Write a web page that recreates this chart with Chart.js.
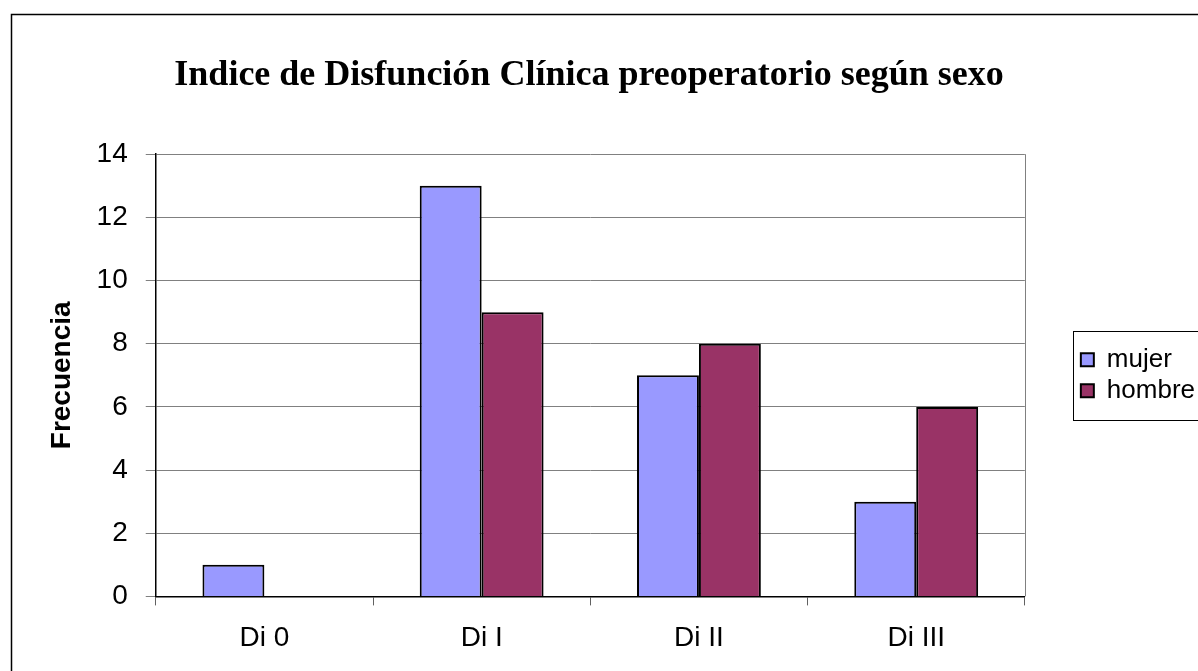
<!DOCTYPE html>
<html>
<head>
<meta charset="utf-8">
<script src="https://cdn.jsdelivr.net/npm/chart.js@4.4.1/dist/chart.umd.min.js"></script>
<style>
  html, body { margin: 0; padding: 0; background: #fff; }
  #wrap { width: 1198px; height: 671px; }
</style>
</head>
<body>
<div id="wrap"><canvas id="chart"></canvas></div>
<script>
// Chart data
const categories = ['Di 0', 'Di I', 'Di II', 'Di III'];
const mujer = [1, 13, 7, 3];
const hombre = [0, 9, 8, 6];
const yTicks = [0, 2, 4, 6, 8, 10, 12, 14];

const sansFont = '"Liberation Sans", Arial, sans-serif';

// outer frame, plot-area right edge and legend box
const framePlugin = {
    id: 'frame',
    afterDraw: function(chart) {
        const ctx = chart.ctx;
        const area = chart.chartArea;
        ctx.save();
        ctx.strokeStyle = '#808080';
        ctx.lineWidth = 1;
        ctx.beginPath();
        ctx.moveTo(Math.round(area.right) + 0.5, area.top);
        ctx.lineTo(Math.round(area.right) + 0.5, area.bottom);
        ctx.stroke();

        ctx.strokeStyle = '#000';
        ctx.lineWidth = 1.5;
        ctx.strokeRect(11.5, 14.5, 1400, 1000);

        const boxes = chart.legend && chart.legend.legendHitBoxes;
        if (boxes && boxes.length) {
            const first = boxes[0];
            const last = boxes[boxes.length - 1];
            const top = Math.round(first.top) - 16;
            const bottom = Math.round(last.top + last.height) + 16;
            ctx.lineWidth = 1;
            ctx.strokeStyle = '#000';
            ctx.strokeRect(Math.round(first.left) - 8 + 0.5, top + 0.5, 400, bottom - top);
        }
        ctx.restore();
    }
};

const ctx = document.getElementById('chart');
new Chart(ctx, {
    type: 'bar',
    data: {
        labels: categories,
        datasets: [
            {
                label: 'mujer',
                data: mujer,
                backgroundColor: '#9999FF',
                borderColor: '#000',
                borderWidth: 2,
                barPercentage: 1,
                categoryPercentage: 0.57
            },
            {
                label: 'hombre',
                data: hombre,
                backgroundColor: '#993366',
                borderColor: '#000',
                borderWidth: 2,
                barPercentage: 1,
                categoryPercentage: 0.57
            }
        ]
    },
    options: {
        responsive: true,
        maintainAspectRatio: false,
        animation: false,
        layout: {
            padding: { left: -27, right: -7, top: 20, bottom: 0 }
        },
        plugins: {
            title: {
                display: true,
                text: 'Indice de Disfunción Clínica preoperatorio según sexo',
                color: '#000',
                font: { family: '"Liberation Serif", "Times New Roman", serif', size: 36, weight: 'bold' },
                padding: { top: 34, bottom: 57 }
            },
            legend: {
                position: 'right',
                align: 'center',
                fullSize: false,
                labels: {
                    color: '#000',
                    boxWidth: 13,
                    boxHeight: 13,
                    padding: 5,
                    font: { family: sansFont, size: 26 }
                }
            },
            tooltip: { enabled: false }
        },
        scales: {
            x: {
                grid: {
                    display: true,
                    drawOnChartArea: false,
                    drawTicks: true,
                    tickLength: 9,
                    color: '#606060'
                },
                border: { color: '#000', width: 1.5 },
                ticks: {
                    color: '#000',
                    padding: 16,
                    font: { family: sansFont, size: 28 }
                }
            },
            y: {
                min: 0,
                max: 14,
                afterBuildTicks: function(scale) {
                    scale.ticks = yTicks.map(function(v) { return { value: v }; });
                },
                grid: {
                    color: '#808080',
                    lineWidth: 1,
                    tickLength: 10
                },
                border: { color: '#000', width: 1.5 },
                ticks: {
                    color: '#000',
                    padding: 18,
                    font: { family: sansFont, size: 28 }
                },
                title: {
                    display: true,
                    text: 'Frecuencia',
                    color: '#000',
                    padding: { top: 72, bottom: 0 },
                    font: { family: sansFont, size: 28, weight: 'bold' }
                }
            },
            // empty axis that only keeps a gap between plot and legend
            gap: {
                axis: 'y',
                position: 'right',
                display: true,
                grid: { display: false },
                border: { display: false },
                ticks: { display: false },
                afterFit: function(scale) { scale.width = 51; }
            }
        }
    },
    plugins: [framePlugin]
});
</script>
</body>
</html>
